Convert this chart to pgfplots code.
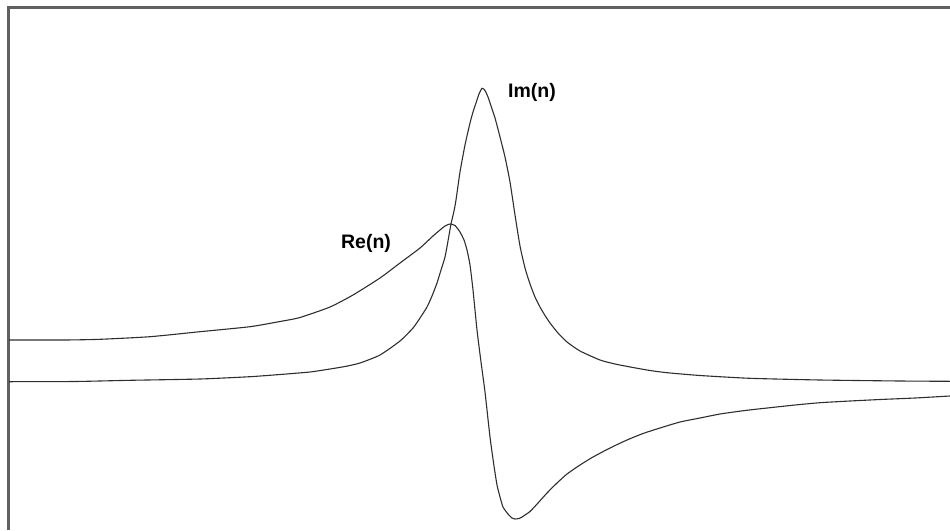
\documentclass[border=0pt]{standalone}
\usepackage{fontspec}
\setmainfont{Liberation Sans}
\usepackage{pgfplots}
\pgfplotsset{compat=1.18}

% Real and imaginary parts of the refractive index near a resonance
% (horizontal position, vertical position measured downwards)
\newcommand{\realpart}{%
  (9,340) (65,340) (100,339.3) (150,336.7) (200,331.7) (250,326.7)
  (280,321.5) (300,317.5) (330,307) (353,295) (380,278) (400,263)
  (420,248) (433,236) (440,230) (445,226) (450,224) (455,225.5)
  (460,232) (464,240) (467,250) (470,265) (473,290) (477,330)
  (481,362) (485,392) (490,437) (494,466) (497,485) (500,497)
  (503,507) (508,514) (512,518) (515,519) (519,518.5) (522,517)
  (530,511.5) (538,503) (547,493) (557,483) (567,474) (580,465)
  (593,457) (610,448) (627,440) (643,433.5) (660,428) (680,422)
  (700,418) (720,414) (745,410.5) (770,407.7) (795,405)
  (820,402.7) (850,401) (880,399.5) (915,398) (950,396)}
\newcommand{\imagpart}{%
  (9,381.7) (75,381.5) (130,380.3) (200,379) (250,376.7) (280,374.5)
  (310,372) (330,369) (345,366.5) (360,363) (380,355) (400,341)
  (413,328) (420,318) (427,307) (432,296) (437,283) (441,270)
  (445,257) (448,241) (451,224) (454,211) (456,200) (460,172)
  (465,145) (470,123) (473,112) (476,103) (479,94) (482,88.3)
  (485,90.5) (488,97) (490,103) (495,118) (500,137) (505,157)
  (510,182) (515,215) (520,246) (525,268) (530,284) (535,297)
  (540,307) (545,315.5) (550,323) (558,333) (567,342) (580,351)
  (600,360) (615,364) (633,367.5) (650,370.5) (667,372.7)
  (700,375.5) (750,378.3) (820,380) (900,381) (950,381.3)}

\begin{document}
\begin{tikzpicture}
\begin{axis}[
  width=950pt, height=530pt, scale only axis,
  xmin=0, xmax=950, ymin=0, ymax=530,
  y dir=reverse,
  hide axis,
]
  \path (axis cs:0,0) rectangle (axis cs:950,530);
  % frame along the top and the left side
  \draw[line width=2.2pt, color=black!62] (axis cs:8.5,530) -- (axis cs:8.5,7.5) -- (axis cs:950,7.5);

  \addplot[no marks, smooth, tension=0.35, line width=1.1pt, color=black!82] coordinates {\realpart};
  \addplot[no marks, smooth, tension=0.35, line width=1.1pt, color=black!82] coordinates {\imagpart};

  \node[font=\fontsize{19.5}{22}\selectfont\bfseries] at (axis cs:366,243) {Re(n)};
  \node[font=\fontsize{19.5}{22}\selectfont\bfseries] at (axis cs:532,92) {Im(n)};
\end{axis}
\end{tikzpicture}
\end{document}
